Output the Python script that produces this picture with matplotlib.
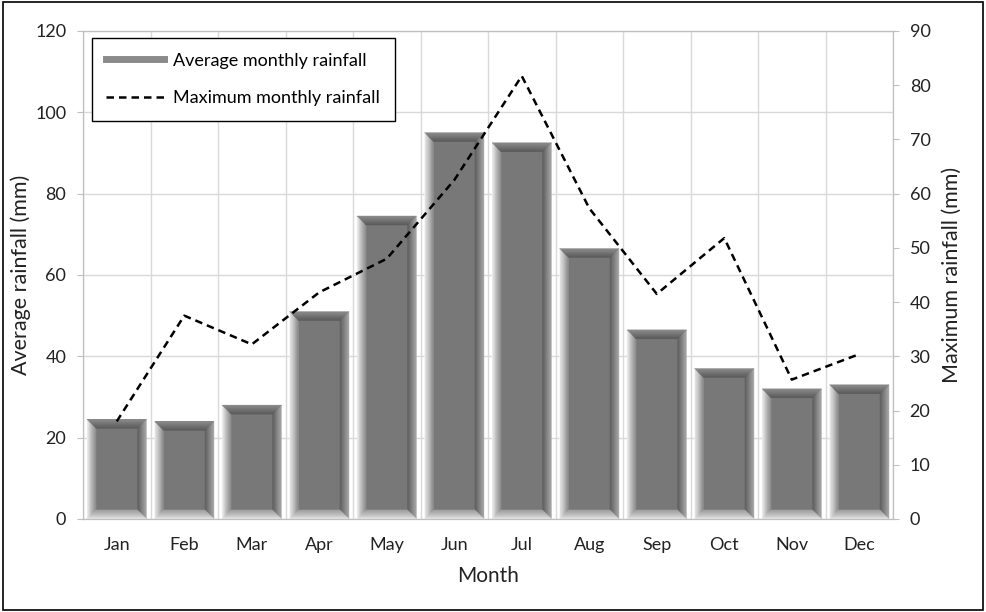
import matplotlib.pyplot as plt
from matplotlib.lines import Line2D
from matplotlib.patches import Polygon, Rectangle
import numpy as np

plt.rcParams['font.family'] = ['Lato', 'DejaVu Sans']

months = ['Jan', 'Feb', 'Mar', 'Apr', 'May', 'Jun', 'Jul', 'Aug', 'Sep', 'Oct', 'Nov', 'Dec']
avg_rain = [24.5, 24, 28, 51, 74.5, 95, 92.5, 66.5, 46.5, 37, 32, 33]
max_rain = [18, 37.5, 32.2, 41.8, 48, 62.5, 81.7, 57.3, 41.5, 51.8, 25.7, 30.4]

fig = plt.figure(figsize=(9.86, 6.12), dpi=100)
fig.patches.append(Rectangle((0.003, 0.004), 0.994, 0.992, transform=fig.transFigure,
                             fill=False, edgecolor='black', linewidth=1.2))
ax = fig.add_axes([0.0842, 0.152, 0.8215, 0.7974])

x = np.arange(len(months))
ax.set_xlim(-0.5, 11.5)
ax.set_ylim(0, 120)
ax.set_axisbelow(True)

bars = ax.bar(x, avg_rain, width=0.88, color='#787878', zorder=2)

# bevel effect, about 9px wide each side
px_x = 12 / (0.8215 * 986)
px_y = 120 / (0.7974 * 612)
bx, by = 9 * px_x, 9 * px_y
N = 10
sides = {
    'left': ('#f8f8f8', '#8c8c8c'),
    'right': ('#b0b0b0', '#5e5e5e'),
    'top': ('#909090', '#5a5a5a'),
    'bottom': ('#ececec', '#a0a0a0'),
}
for r in bars:
    x0, x1 = r.get_x(), r.get_x() + r.get_width()
    y0, y1 = 0, r.get_height()
    for k in range(N):
        a, b = k / N, (k + 1) / N
        t = (k + 0.5) / N
        for side, (c_out, c_in) in sides.items():
            g0 = int(c_out[1:3], 16)
            g1 = int(c_in[1:3], 16)
            g = int(g0 + (g1 - g0) * t)
            col = '#%02x%02x%02x' % (g, g, g)
            if side == 'left':
                pts = [(x0 + a*bx, y0 + a*by), (x0 + b*bx, y0 + b*by),
                       (x0 + b*bx, y1 - b*by), (x0 + a*bx, y1 - a*by)]
            elif side == 'right':
                pts = [(x1 - a*bx, y0 + a*by), (x1 - b*bx, y0 + b*by),
                       (x1 - b*bx, y1 - b*by), (x1 - a*bx, y1 - a*by)]
            elif side == 'top':
                pts = [(x0 + a*bx, y1 - a*by), (x0 + b*bx, y1 - b*by),
                       (x1 - b*bx, y1 - b*by), (x1 - a*bx, y1 - a*by)]
            else:
                pts = [(x0 + a*bx, y0 + a*by), (x0 + b*bx, y0 + b*by),
                       (x1 - b*bx, y0 + b*by), (x1 - a*bx, y0 + a*by)]
            ax.add_patch(Polygon(pts, closed=True, facecolor=col, edgecolor=col,
                                 linewidth=0.3, zorder=3))

ax.set_xticks(x)
ax.set_xticklabels(months)
ax.set_xticks(np.arange(-0.5, 12, 1), minor=True)
ax.set_yticks(np.arange(0, 121, 20))
ax.grid(which='minor', axis='x', color='#d9d9d9', linewidth=1)
ax.grid(which='major', axis='y', color='#d9d9d9', linewidth=1)
ax.tick_params(axis='x', which='both', length=0, labelsize=13, pad=13, colors='#222222')
ax.tick_params(axis='y', length=4, labelsize=13, pad=8, colors='#222222')
ax.tick_params(axis='y', color='#bfbfbf')
for s in ax.spines.values():
    s.set_color('#bfbfbf')
ax.set_xlabel('Month', fontsize=15, labelpad=9, color='#222222')
ax.set_ylabel('Average rainfall (mm)', fontsize=15.5, labelpad=3, color='#222222')

ax2 = ax.twinx()
ax2.set_ylim(0, 90)
ax2.set_yticks(np.arange(0, 91, 10))
ax2.plot(x, max_rain, color='black', linestyle=(0, (3, 2)), linewidth=1.8, zorder=5)
ax2.tick_params(axis='y', length=4, labelsize=13, pad=8, colors='#222222')
ax2.tick_params(axis='y', color='#bfbfbf')
for s in ax2.spines.values():
    s.set_color('#bfbfbf')
ax2.set_ylabel('Maximum rainfall (mm)', fontsize=15.5, labelpad=8, color='#222222')

handles = [Line2D([], [], color='#8a8a8a', linewidth=5),
           Line2D([], [], color='black', linestyle=(0, (3, 2)), linewidth=1.8)]
leg = ax2.legend(handles, ['Average monthly rainfall', 'Maximum monthly rainfall'],
                 loc='upper left', bbox_to_anchor=(0.011, 0.985), fontsize=13,
                 fancybox=False, framealpha=1, edgecolor='black', labelspacing=1.2,
                 handlelength=3.2, handletextpad=0.5, borderpad=0.8, borderaxespad=0)
leg.get_frame().set_linewidth(1.0)

fig.savefig('out.png', dpi=100)
